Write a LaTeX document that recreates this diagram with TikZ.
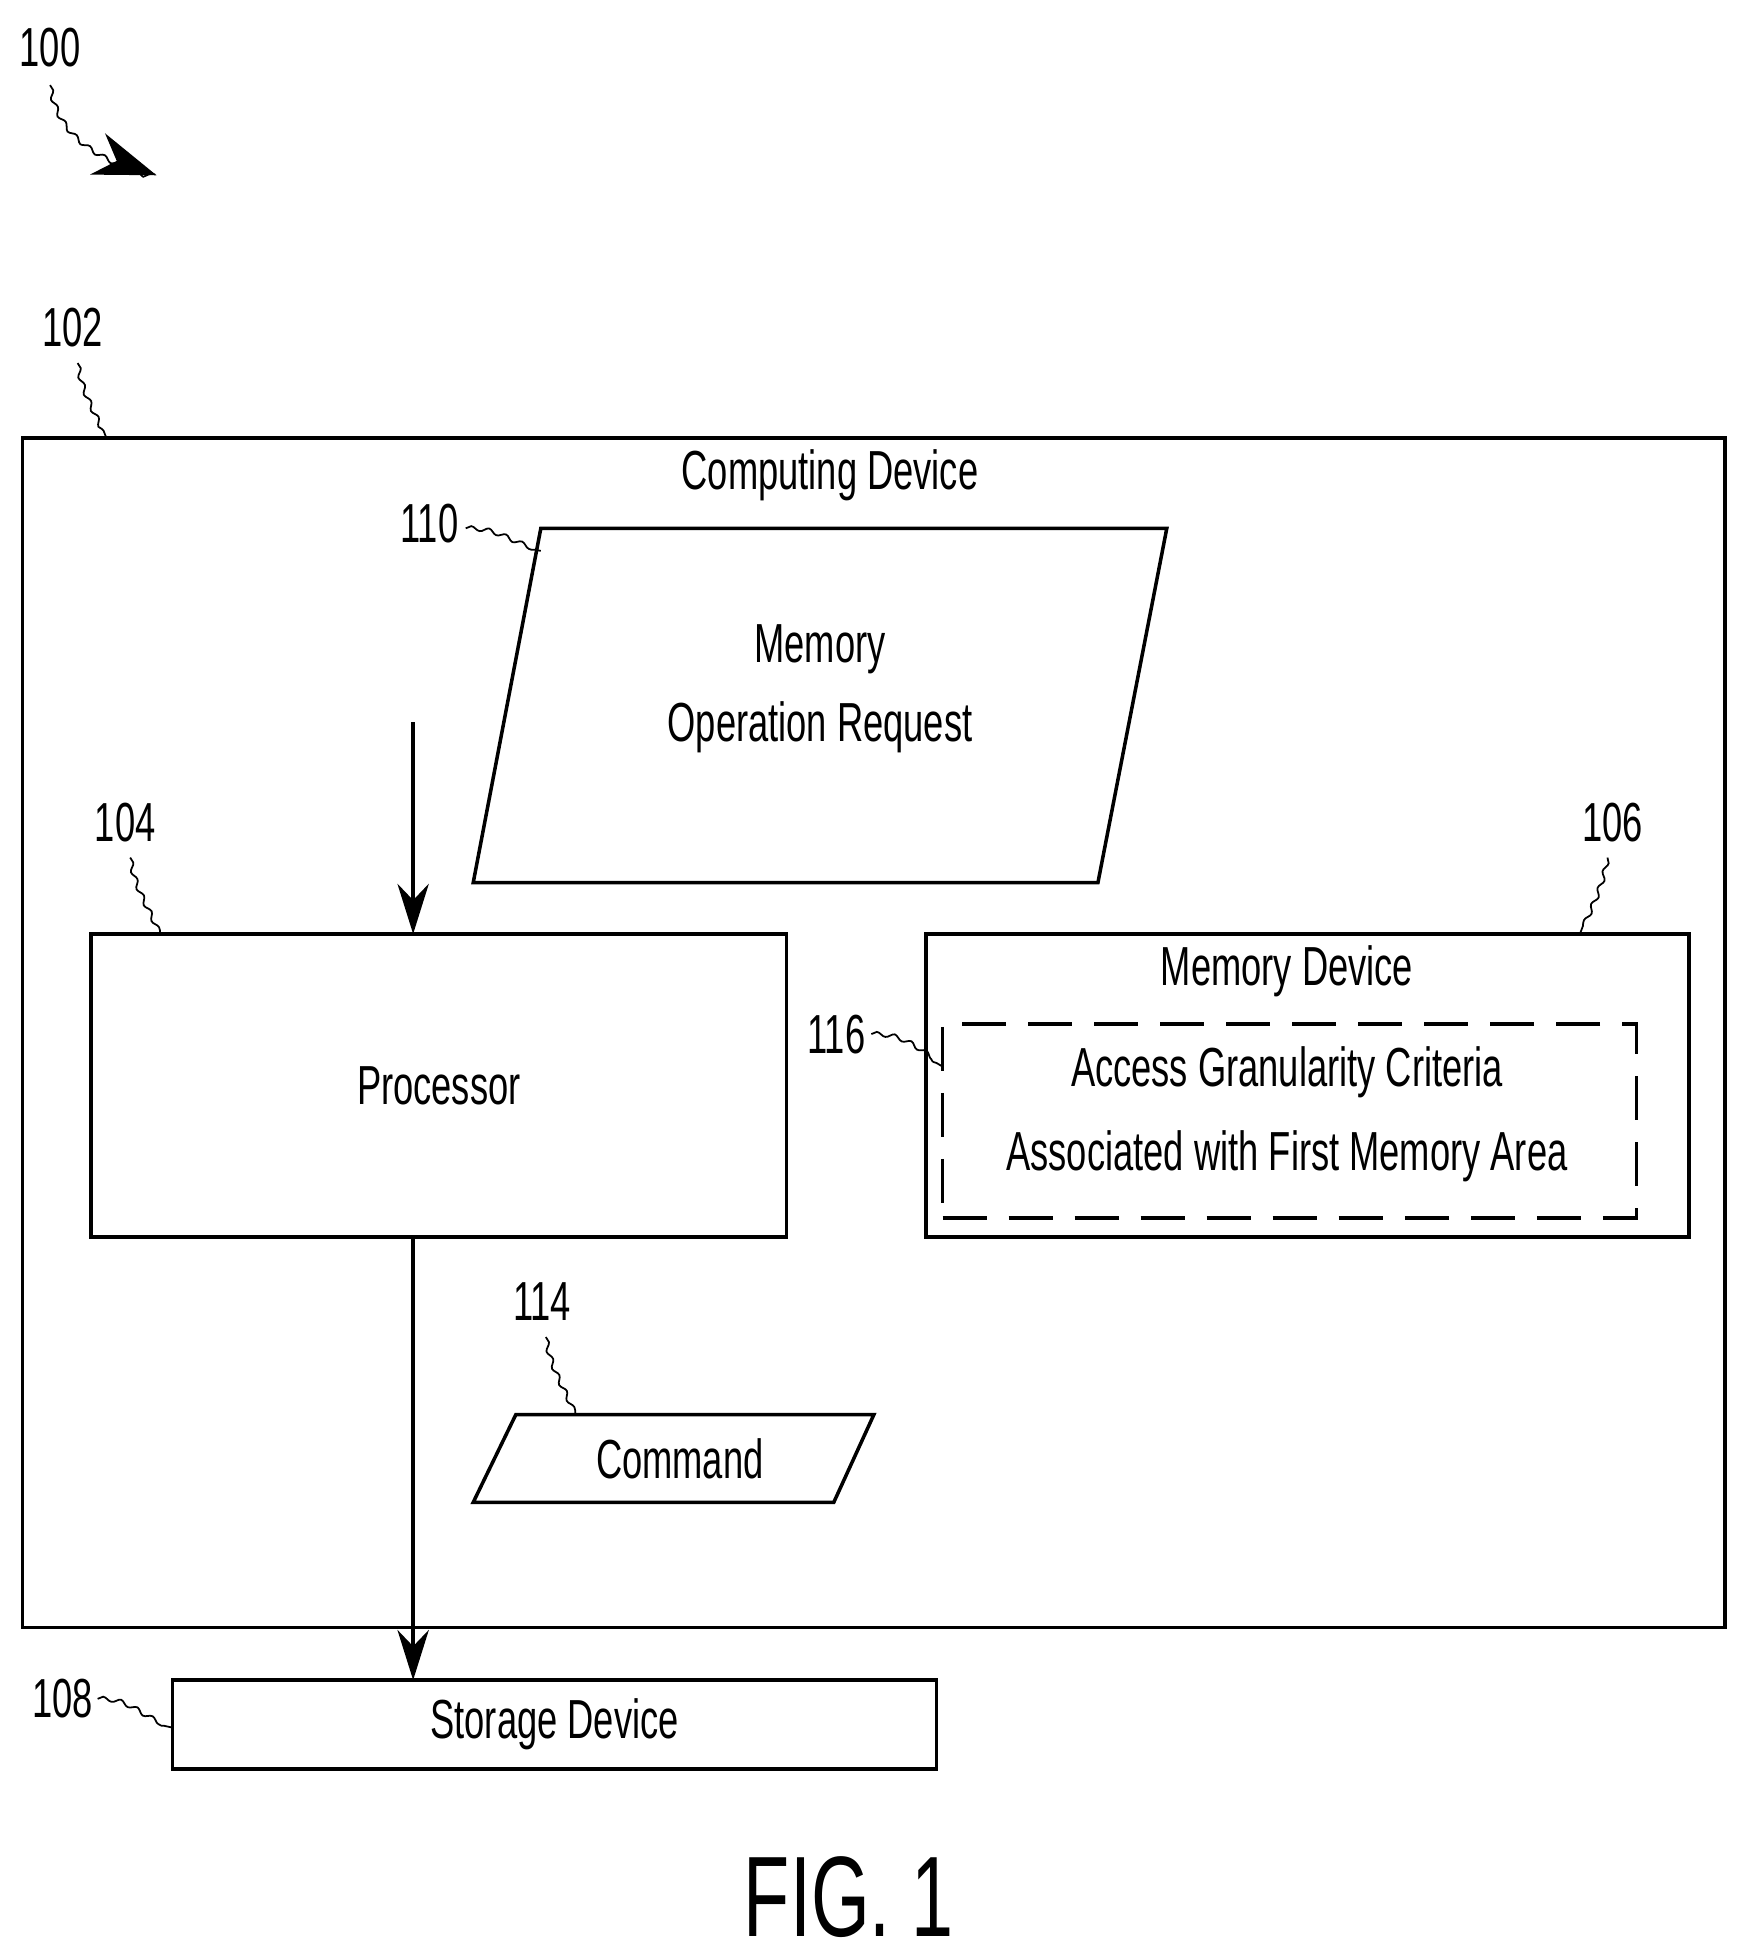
\documentclass[tikz,border=0pt]{standalone}
\usepackage{fontspec}
\setmainfont[FakeStretch=0.66]{Liberation Sans}
\usetikzlibrary{positioning,arrows.meta,decorations.pathmorphing}

\begin{document}
\begin{tikzpicture}[x=0.01cm, y=-0.01cm,
  box/.style={draw, thick, inner sep=0pt},
  txt/.style={font=\fontsize{12.5}{18}\selectfont, align=center},
  num/.style={font=\fontsize{12.5}{15}\selectfont},
  lead/.style={thin, decorate, decoration={snake, amplitude=0.5pt, segment length=4pt}},
  flow/.style={thick, -{Stealth[length=4mm, width=2.5mm]}}]
\useasboundingbox (0,0) rectangle (1390,1560);

% computing device
\draw[box] (18,350) rectangle (1378,1300);
\node[txt] (cdev) at (663,380) {Computing Device};

% memory operation request
\coordinate (r1) at (432,422); \coordinate (r2) at (932,422);
\coordinate (r3) at (877,705); \coordinate (r4) at (378,705);
\draw[thick] (r1) -- (r2) -- (r3) -- (r4) -- cycle;
\node[txt] (req) at (655,550) {Memory\\Operation Request};

% processor
\node[box, minimum width=5.55cm, minimum height=2.42cm] (proc) at (350.5,867) {};
\node[txt] at (proc) {Processor};
\coordinate (in) at (330,577);
\draw[flow] (in) -- (330,746);

% memory device
\node[box, minimum width=6.09cm, minimum height=2.42cm] (mem) at (1044.5,867) {};
\node[txt] (memt) at (1028,776) {Memory Device};
\node[draw, thick, dash pattern=on 10pt off 5pt, minimum width=5.54cm, minimum height=1.55cm] (crit) at (1030,895.5) {};
\node[txt] at (1028,890) {Access Granularity Criteria\\[1pt]Associated with First Memory Area};

% command
\coordinate (c1) at (412,1130); \coordinate (c2) at (698,1130);
\coordinate (c3) at (666,1200); \coordinate (c4) at (378,1200);
\draw[thick] (c1) -- (c2) -- (c3) -- (c4) -- cycle;
\node[txt] (cmd) at (543,1165) {Command};

% storage device
\node[box, minimum width=6.1cm, minimum height=0.71cm] (stor) at (443,1377.5) {};
\node[txt] at (stor) {Storage Device};
\draw[flow] (330,988) -- (330,1342);

% reference numerals
\node[num] (n100) at (40,38) {100};
\coordinate (a100) at (125,140);
\draw[lead, -{Stealth[length=5mm, width=3.5mm]}] (40,68) to[out=-80, in=160] (a100);
\node[num] (n102) at (58,262) {102};
\draw[lead] (62,290) to[out=-80, in=110] (85,350);
\node[num] (n104) at (100,657) {104};
\draw[lead] (104,685) to[out=-80, in=110] (128,746);
\node[num] (n106) at (1288,657) {106};
\draw[lead] (1284,685) to[out=-100, in=70] (1262,746);
\node[num] (n110) at (343,418) {110};
\draw[lead] (372,422) to[out=0, in=170] (432,440);
\node[num] (n116) at (668,826) {116};
\draw[lead] (696,826) to[out=0, in=150] (753,852);
\node[num] (n114) at (433,1040) {114};
\draw[lead] (436,1068) to[out=-80, in=110] (460,1130);
\node[num] (n108) at (50,1357) {108};
\draw[lead] (78,1357) to[out=0, in=170] (138,1380);

\node[font=\fontsize{26}{30}\selectfont] (fig) at (678,1515) {FIG. 1};
\end{tikzpicture}
\end{document}
